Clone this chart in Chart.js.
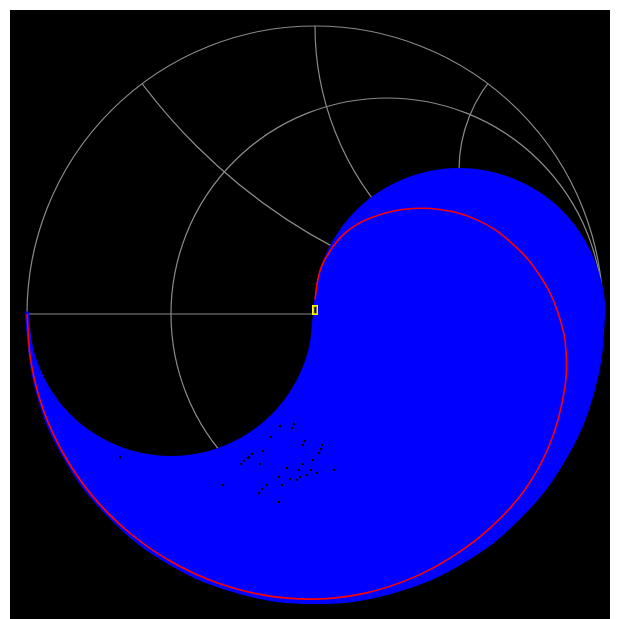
<!DOCTYPE html>
<html>
<head>
<meta charset="utf-8">
<script src="https://cdn.jsdelivr.net/npm/chart.js@4/dist/chart.umd.min.js"></script>
<style>
  html, body { margin: 0; padding: 0; background: #ffffff; }
  #wrap { position: relative; width: 619px; height: 619px; }
  #panel { position: absolute; left: 10px; top: 10px; width: 600px; height: 609px; background: #000000; }
  #smith { position: absolute; left: 0; top: 0; }
</style>
</head>
<body>
<div id="wrap">
  <div id="panel"></div>
  <canvas id="smith" width="619" height="619"></canvas>
</div>
<script>
// Smith chart grid: constant-resistance circles and constant-reactance arcs
const resistanceCircles = [0, 1 / 3];
const reactanceArcs = [0.5, 1, 2, -0.5, -1, -2];

// Reflection-coefficient spread (outline of the covered region), Re / Im
const spreadU = [0, 0.017, 0.067, 0.146, 0.25, 0.371, 0.5, 0.629, 0.75, 0.854, 0.933, 0.983, 1,
  0.966, 0.866, 0.707, 0.5, 0.259, 0, -0.259, -0.5, -0.707, -0.866, -0.966, -1,
  -0.983, -0.933, -0.854, -0.75, -0.629, -0.5, -0.371, -0.25, -0.146, -0.067, -0.017, 0];
const spreadV = [0, 0.129, 0.25, 0.354, 0.433, 0.483, 0.5, 0.483, 0.433, 0.354, 0.25, 0.129, 0,
  -0.259, -0.5, -0.707, -0.866, -0.966, -1, -0.966, -0.866, -0.707, -0.5, -0.259, 0,
  -0.129, -0.25, -0.354, -0.433, -0.483, -0.5, -0.483, -0.433, -0.354, -0.25, -0.129, 0];

// Points inside the region that were not reached
const gapU = [-0.122, -0.073, -0.080, -0.153, -0.035, -0.042, 0.024, 0.021, 0.014, -0.181, -0.219, -0.229,
  -0.233, -0.247, -0.257, -0.191, -0.007, -0.042, -0.056, -0.014, 0.007, 0.066, -0.097, -0.125, -0.087,
  -0.063, -0.052, -0.028, -0.115, -0.167, -0.184, -0.194, -0.319, -0.125, -0.677];
const gapV = [-0.389, -0.382, -0.396, -0.427, -0.441, -0.455, -0.455, -0.469, -0.483, -0.476, -0.486, -0.497,
  -0.500, -0.510, -0.521, -0.521, -0.507, -0.521, -0.542, -0.542, -0.552, -0.542, -0.535, -0.566, -0.573,
  -0.576, -0.566, -0.559, -0.594, -0.594, -0.608, -0.622, -0.594, -0.653, -0.497];

// Nominal trace, Re / Im
const traceU = [-1.000, -0.985, -0.940, -0.865, -0.765, -0.640, -0.497, -0.340, -0.172, 0.000,
  0.171, 0.334, 0.484, 0.617, 0.728, 0.809, 0.857, 0.873, 0.845, 0.778, 0.681, 0.565, 0.433,
  0.305, 0.193, 0.102, 0.033, 0.011, 0.000];
const traceV = [0.000, -0.174, -0.342, -0.500, -0.641, -0.763, -0.861, -0.933, -0.977, -0.990,
  -0.970, -0.918, -0.838, -0.735, -0.611, -0.467, -0.312, -0.154, 0.000, 0.137, 0.248, 0.326, 0.363,
  0.363, 0.333, 0.279, 0.187, 0.125, 0.050];

// Marker position
const markerU = [0.001];
const markerV = [0.014];

const toPoints = (us, vs) => us.map((u, i) => ({ x: u, y: vs[i] }));

// small upright rectangle used as the marker symbol
const markerIcon = document.createElement('canvas');
markerIcon.width = 6; markerIcon.height = 10;
(function () {
  const c = markerIcon.getContext('2d');
  c.strokeStyle = '#ffff00';
  c.lineWidth = 1;
  c.strokeRect(0.5, 0.5, 5, 9);
  c.strokeStyle = '#c8c800';
  c.strokeRect(1.5, 1.5, 3, 7);
  c.fillStyle = '#00008c';
  c.fillRect(2, 2, 2, 6);
})();

const smithGrid = {
  id: 'smithGrid',
  beforeDatasetsDraw(chart) {
    const ctx = chart.ctx;
    const xs = chart.scales.x, ys = chart.scales.y;
    const cx = xs.getPixelForValue(0), cy = ys.getPixelForValue(0);
    const R = xs.getPixelForValue(1) - cx;
    ctx.save();
    ctx.strokeStyle = '#8a8a8a';
    ctx.lineWidth = 1.2;
    ctx.beginPath();
    ctx.arc(cx, cy, R, 0, Math.PI * 2);
    ctx.stroke();
    ctx.beginPath();
    ctx.arc(cx, cy, R, 0, Math.PI * 2);
    ctx.clip();
    ctx.beginPath();
    ctx.moveTo(xs.getPixelForValue(-1), cy);
    ctx.lineTo(xs.getPixelForValue(1), cy);
    ctx.stroke();
    resistanceCircles.forEach(r => {
      if (r === 0) return;
      const c = xs.getPixelForValue(r / (1 + r));
      ctx.beginPath();
      ctx.arc(c, cy, R / (1 + r), 0, Math.PI * 2);
      ctx.stroke();
    });
    reactanceArcs.forEach(x => {
      const ax = xs.getPixelForValue(1), ay = ys.getPixelForValue(1 / x);
      ctx.beginPath();
      ctx.arc(ax, ay, R / Math.abs(x), 0, Math.PI * 2);
      ctx.stroke();
    });
    ctx.restore();
  }
};

new Chart(document.getElementById('smith'), {
  type: 'scatter',
  data: {
    datasets: [
      {
        label: 'marker',
        data: toPoints(markerU, markerV),
        pointStyle: markerIcon,
        order: 0
      },
      {
        label: 'trace',
        data: toPoints(traceU, traceV),
        showLine: true,
        borderColor: '#ff0000',
        borderWidth: 1.6,
        pointRadius: 0,
        tension: 0.4,
        fill: false,
        order: 1
      },
      {
        label: 'gaps',
        data: toPoints(gapU, gapV),
        pointStyle: 'rect',
        pointRadius: 1.5,
        backgroundColor: '#000000',
        borderWidth: 0,
        order: 2
      },
      {
        label: 'spread',
        data: toPoints(spreadU, spreadV),
        showLine: true,
        borderColor: '#0000ff',
        backgroundColor: '#0000ff',
        borderWidth: 4,
        pointRadius: 0,
        tension: 0.4,
        fill: 'shape',
        order: 3
      }
    ]
  },
  options: {
    responsive: false,
    animation: false,
    devicePixelRatio: 1,
    layout: { padding: 0, autoPadding: false },
    plugins: { legend: { display: false }, tooltip: { enabled: false } },
    scales: {
      x: { type: 'linear', display: false, min: -315 / 288, max: 304 / 288 },
      y: { type: 'linear', display: false, min: -305 / 288, max: 314 / 288 }
    }
  },
  plugins: [smithGrid]
});
</script>
</body>
</html>
